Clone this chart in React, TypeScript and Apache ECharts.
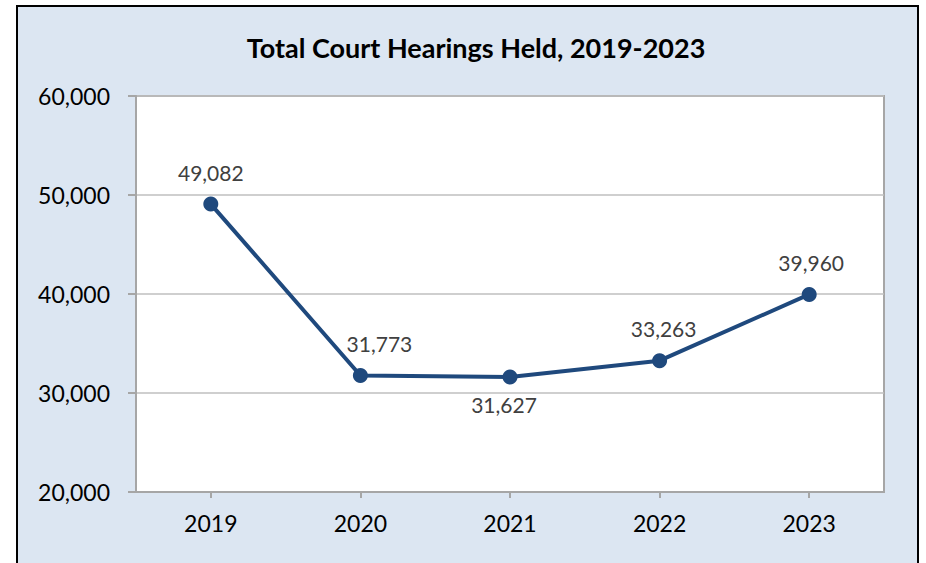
import React, { useEffect, useRef } from "react";
import * as echarts from "echarts";

const years = ["2019", "2020", "2021", "2022", "2023"];
const hearings = [49082, 31773, 31627, 33263, 39960];
const labelBelow = [false, false, true, false, false];
const labelShiftX = [0, 19, -6, 4, 2];
const titleText = "Total Court Hearings Held, 2019-2023";

const FONT = "Lato, 'Open Sans', sans-serif";

export default function App() {
  const ref = useRef<HTMLDivElement>(null);
  useEffect(() => {
    if (!ref.current) return;
    const chart = echarts.init(ref.current, null, { renderer: "svg" });
    chart.setOption({
      animation: false,
      backgroundColor: "#ffffff",
      title: {
        text: titleText,
        left: 471,
        textAlign: "center",
        top: 29,
        textStyle: { fontFamily: FONT, fontWeight: "bold", fontSize: 27, color: "#000000" },
      },
      graphic: [
        {
          type: "rect",
          z: -10,
          silent: true,
          shape: { x: 17, y: 6, width: 901, height: 580 },
          style: { fill: "#dce6f2", stroke: "#000000", lineWidth: 2 },
        },
      ],
      grid: {
        left: 136,
        top: 96,
        right: 42,
        bottom: 71,
        show: true,
        backgroundColor: "#ffffff",
        borderColor: "#a6a6a6",
        borderWidth: 2,
      },
      xAxis: {
        type: "category",
        data: years,
        boundaryGap: true,
        axisLine: { show: true, lineStyle: { color: "#a6a6a6", width: 2 } },
        axisTick: { show: true, alignWithLabel: true, length: 6, lineStyle: { color: "#a6a6a6", width: 2 } },
        axisLabel: { margin: 19, fontFamily: FONT, fontSize: 23, color: "#000000" },
        splitLine: { show: false },
      },
      yAxis: {
        type: "value",
        min: 20000,
        max: 60000,
        interval: 10000,
        axisLine: { show: true, lineStyle: { color: "#a6a6a6", width: 2 } },
        axisTick: { show: true, length: 8, lineStyle: { color: "#a6a6a6", width: 2 } },
        axisLabel: {
          margin: 26,
          fontFamily: FONT,
          fontSize: 23,
          color: "#000000",
          formatter: (v: number) => v.toLocaleString("en-US"),
        },
        splitLine: { show: true, lineStyle: { color: "#bfbfbf", width: 1.5 } },
      },
      series: [
        {
          type: "line",
          data: hearings.map((v, i) => ({
            value: v,
            label: labelBelow[i]
              ? { position: "bottom", distance: 10, offset: [labelShiftX[i], 0] }
              : { position: "top", distance: 14, offset: [labelShiftX[i], 0] },
          })),
          symbol: "circle",
          symbolSize: 15,
          lineStyle: { color: "#1f497d", width: 4 },
          itemStyle: { color: "#1f497d" },
          label: {
            show: true,
            fontFamily: FONT,
            fontSize: 21,
            color: "#404040",
            formatter: (p: any) => Number(p.value).toLocaleString("en-US"),
          },
        },
      ],
    });
    return () => chart.dispose();
  }, []);
  return (
    <div
      ref={ref}
      style={{ position: "absolute", left: 0, top: 0, width: 926, height: 563 }}
    />
  );
}
